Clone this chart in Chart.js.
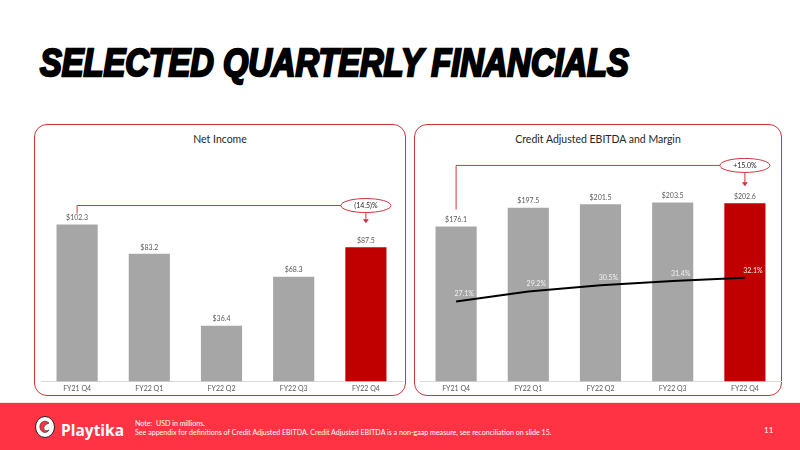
<!DOCTYPE html>
<html>
<head>
<meta charset="utf-8">
<script src="https://cdn.jsdelivr.net/npm/chart.js@4.4.1/dist/chart.umd.min.js"></script>
<style>
  html, body { margin: 0; padding: 0; }
  body { width: 800px; height: 450px; position: relative; background: #fff; overflow: hidden; font-family: Lato, "Noto Sans", sans-serif; }
  #title {
    position: absolute; left: 40px; top: 42px; white-space: nowrap;
    font-family: "Liberation Sans", Arial, sans-serif; font-weight: 700; font-style: italic;
    font-size: 38px; letter-spacing: 0px; color: #000; -webkit-text-stroke: 2.4px #000;
    transform-origin: left top; transform: scaleX(0.858);
  }
  .panel { position: absolute; top: 124px; height: 272px; border: 1px solid #d0343f; border-radius: 13px; box-sizing: border-box; }
  .panel h2 { position: absolute; left: 0; right: 0; top: 8px; margin: 0; text-align: center; font-size: 10.5px; font-weight: 400; color: #262626; }
  .panel canvas { position: absolute; left: 0; top: 0; }
  #p1 { left: 34px; width: 372px; }
  #p2 { left: 414px; width: 368px; }
  #footer { position: absolute; left: 0; top: 402px; width: 800px; height: 48px; background: #ff3344; border-top: 1px solid #f0e6e6; }
  #logo { position: absolute; left: 34px; top: 12px; }
  #brand { position: absolute; left: 61px; top: 16px; font-family: "Open Sans", sans-serif; font-weight: 700; font-size: 15.5px; color: #fff; }
  #note { position: absolute; left: 135px; top: 16px; font-size: 7.1px; line-height: 9px; color: #fff; }
  #page { position: absolute; left: 764px; top: 22px; font-size: 8px; color: #fff; }
</style>
</head>
<body>
<div id="title">SELECTED QUARTERLY FINANCIALS</div>

<div class="panel" id="p1">
  <h2>Net Income</h2>
  <canvas id="netIncomeChart" width="372" height="272"></canvas>
</div>
<div class="panel" id="p2">
  <h2>Credit Adjusted EBITDA and Margin</h2>
  <canvas id="ebitdaChart" width="368" height="272"></canvas>
</div>

<div id="footer">
  <svg id="logo" width="22" height="24" viewBox="0 0 22 24">
    <ellipse cx="11" cy="12" rx="9.5" ry="10.5" fill="#fff" stroke="#222" stroke-width="1"/>
    <path d="M15 8 C 11 4, 5 7, 6 13 C 7 18, 13 19, 15 15 C 12 17, 9 15, 10 12 C 11 9, 14 9, 15 8 Z" fill="#ff3344" stroke="#222" stroke-width="0.6"/>
  </svg>
  <div id="brand">Playtika</div>
  <div id="note">Note:&nbsp; USD in millions.<br>See appendix for definitions of Credit Adjusted EBITDA. Credit Adjusted EBITDA is a non-gaap measure, see reconciliation on slide 15.</div>
  <div id="page">11</div>
</div>

<script>
// data
const quarters = ['FY21 Q4', 'FY22 Q1', 'FY22 Q2', 'FY22 Q3', 'FY22 Q4'];
const netIncome = [102.3, 83.2, 36.4, 68.3, 87.5];
const ebitda = [176.1, 197.5, 201.5, 203.5, 202.6];
const ebitdaMargin = [27.1, 29.2, 30.5, 31.4, 32.1];
const netIncomeChange = '(14.5)%';
const ebitdaChange = '+15.0%';

const GREY = '#a6a6a6';
const RED = '#c00000';
const ACCENT = '#d0343f';
const FONT = 'Lato, "Noto Sans", sans-serif';

// last quarter is highlighted in red
const barColors = quarters.map((q, i) => i === quarters.length - 1 ? RED : GREY);

// writes $ values above bars and % values above the margin line
const valueLabels = {
  id: 'valueLabels',
  afterDatasetsDraw(chart) {
    const ctx = chart.ctx;
    ctx.save();
    ctx.textAlign = 'center';
    ctx.textBaseline = 'bottom';
    ctx.font = '7px ' + FONT;
    chart.data.datasets.forEach((ds, di) => {
      const meta = chart.getDatasetMeta(di);
      meta.data.forEach((el, i) => {
        if (ds.type === 'line') {
          ctx.fillStyle = '#f2f2f2';
          ctx.fillText(ds.data[i].toFixed(1) + '%', el.x + 8, el.y - 4);
        } else {
          ctx.fillStyle = '#595959';
          ctx.fillText('$' + ds.data[i].toFixed(1), el.x, el.y - 3);
        }
      });
    });
    ctx.restore();
  }
};

// red bracket from first to last quarter with the change in an ellipse
const bracket = {
  id: 'bracket',
  afterDatasetsDraw(chart, args, opts) {
    const { ctx } = chart;
    const x = chart.scales.x, y = chart.scales.y;
    const vals = chart.data.datasets[0].data;
    const n = vals.length;
    const x0 = x.getPixelForValue(0), x1 = x.getPixelForValue(n - 1);
    const lineY = y.getPixelForValue(Math.max(...vals)) - opts.rise;
    const stubEnd = y.getPixelForValue(vals[0]) - opts.stubGap;
    const arrowEnd = y.getPixelForValue(vals[n - 1]) - opts.arrowGap;
    const rx = 25, ry = 7;
    ctx.save();
    ctx.strokeStyle = ACCENT;
    ctx.lineWidth = 1;
    ctx.beginPath();
    ctx.moveTo(x0, stubEnd);
    ctx.lineTo(x0, lineY);
    ctx.lineTo(x1 - rx, lineY);
    ctx.stroke();
    ctx.beginPath();
    ctx.ellipse(x1, lineY, rx, ry, 0, 0, Math.PI * 2);
    ctx.fillStyle = '#fff';
    ctx.fill();
    ctx.stroke();
    ctx.beginPath();
    ctx.moveTo(x1, lineY + ry);
    ctx.lineTo(x1, arrowEnd - 3);
    ctx.stroke();
    ctx.beginPath();
    ctx.moveTo(x1 - 3, arrowEnd - 4);
    ctx.lineTo(x1 + 3, arrowEnd - 4);
    ctx.lineTo(x1, arrowEnd);
    ctx.closePath();
    ctx.fillStyle = ACCENT;
    ctx.fill();
    ctx.fillStyle = '#262626';
    ctx.font = '7px ' + FONT;
    ctx.textAlign = 'center';
    ctx.textBaseline = 'middle';
    ctx.fillText(opts.label, x1, lineY + 0.5);
    ctx.restore();
  }
};

const xAxis = {
  grid: { display: false, drawTicks: false },
  border: { display: true, color: '#d9d9d9', width: 1 },
  ticks: { color: '#595959', font: { size: 7, family: FONT }, padding: 3, maxRotation: 0, autoSkip: false }
};

new Chart(document.getElementById('netIncomeChart'), {
  type: 'bar',
  data: {
    labels: quarters,
    datasets: [{
      data: netIncome,
      backgroundColor: barColors,
      barPercentage: 0.57,
      categoryPercentage: 1.0
    }]
  },
  options: {
    responsive: false,
    animation: false,
    layout: { padding: { left: 6, right: 5, top: 57, bottom: 1 } },
    plugins: {
      legend: { display: false },
      tooltip: { enabled: false },
      bracket: { label: netIncomeChange, rise: 19, stubGap: 11, arrowGap: 24 }
    },
    scales: {
      x: xAxis,
      y: { display: false, min: 0, max: 130 }
    }
  },
  plugins: [valueLabels, bracket]
});

new Chart(document.getElementById('ebitdaChart'), {
  data: {
    labels: quarters,
    datasets: [{
      type: 'bar',
      data: ebitda,
      backgroundColor: barColors,
      barPercentage: 0.57,
      categoryPercentage: 1.0,
      order: 1
    }, {
      type: 'line',
      data: ebitdaMargin,
      yAxisID: 'y1',
      borderColor: '#000',
      borderWidth: 2,
      pointRadius: 0,
      tension: 0,
      order: 0
    }]
  },
  options: {
    responsive: false,
    animation: false,
    layout: { padding: { left: 5, right: 2, top: 57, bottom: 1 } },
    plugins: {
      legend: { display: false },
      tooltip: { enabled: false },
      bracket: { label: ebitdaChange, rise: 37, stubGap: 17, arrowGap: 17 }
    },
    scales: {
      x: xAxis,
      y: { display: false, min: 0, max: 226.7 },
      y1: { display: false, min: 10.2, max: 52.3 }
    }
  },
  plugins: [valueLabels, bracket]
});
</script>
</body>
</html>
